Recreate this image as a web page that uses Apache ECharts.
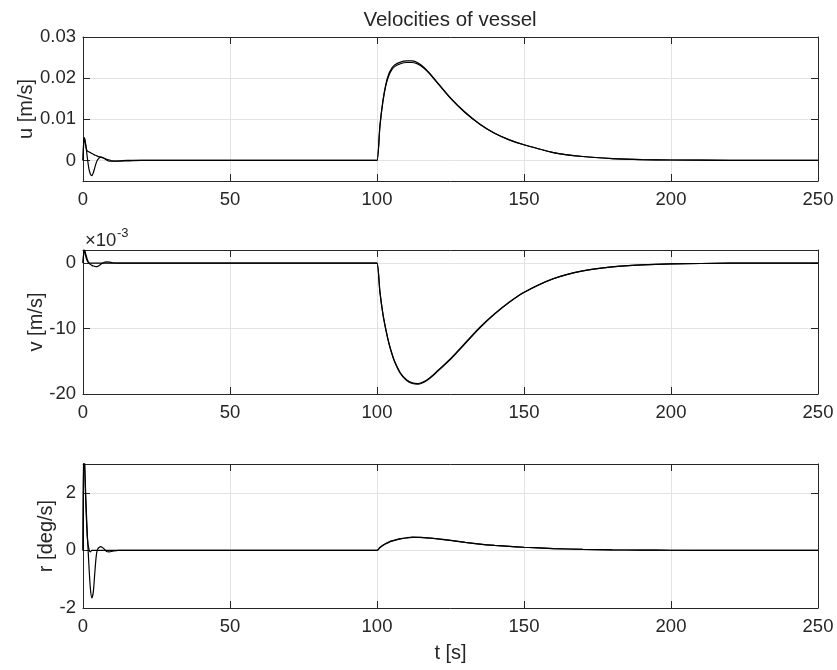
<!DOCTYPE html>
<html>
<head>
<meta charset="utf-8">
<title>Velocities of vessel</title>
<script src="https://cdn.jsdelivr.net/npm/echarts@6/dist/echarts.min.js"></script>
<style>
html, body { margin: 0; padding: 0; background: #fff; }
#chart { width: 837px; height: 670px; }
</style>
</head>
<body>
<div id="chart"></div>
<script>
// time samples [s]
const t = [0, 0.25, 0.5, 1, 1.5, 2, 2.5, 3, 3.5, 4,
  4.5, 5, 6, 7, 8, 9, 10, 12, 15, 20,
  50, 99, 100, 101, 102, 103, 104, 105, 106, 108, 110,
  112, 114, 116, 118, 120, 125, 130, 135, 140, 145,
  150, 160, 170, 180, 190, 200, 220, 250];

// surge velocity u [m/s]
const u1 = [0, 0.0045, 0.0055, 0.0035, 0.0005, -0.002, -0.0033, -0.0037, -0.003, -0.0018,
  -0.0006, 0.0002, 0.0008, 0.0006, 0.0001, -0.0002, -0.0002, -0.0001, 0, 0,
  0, 0, 0, 0.0085, 0.0145, 0.0185, 0.021, 0.0224, 0.0232, 0.0239, 0.0242,
  0.0242, 0.0237, 0.0226, 0.0211, 0.0194, 0.0152, 0.0117, 0.0088, 0.0066, 0.005,
  0.0038, 0.0019, 0.00095, 0.00045, 0.0002, 0.0001, 0.00002, 0];
const u2 = [0, 0.0045, 0.0055, 0.0032, 0.0023, 0.0021, 0.0019, 0.0017, 0.0015, 0.0013,
  0.0012, 0.001, 0.0008, 0.0006, 0.0003, 0.0001, -0.0001, -0.0002, -0.0001, 0,
  0, 0, 0, 0.0083, 0.0142, 0.0182, 0.0206, 0.022, 0.0228, 0.0235, 0.0238,
  0.0238, 0.0234, 0.0224, 0.021, 0.0193, 0.0151, 0.0116, 0.0088, 0.0066, 0.005,
  0.0038, 0.0019, 0.00095, 0.00045, 0.0002, 0.0001, 0.00002, 0];

// sway velocity v [x 10^-3 m/s]
const v1 = [0, 1.5, 2.0, 1.3, 0.5, 0, -0.2, -0.35, -0.45, -0.5,
  -0.55, -0.5, -0.2, 0.1, 0.2, 0.15, 0.05, 0, 0, 0,
  0, 0, 0, -4.5, -7.8, -10.2, -12.2, -13.8, -15.1, -16.9, -17.9,
  -18.4, -18.5, -18.2, -17.6, -16.8, -14.7, -12.3, -9.9, -7.8, -6.0,
  -4.5, -2.4, -1.2, -0.58, -0.28, -0.13, -0.02, 0];
const v2 = [0, 1.5, 2.0, 0.9, 0.3, 0.05, 0, 0, 0, 0,
  0, 0, 0, 0, 0, 0, 0, 0, 0, 0,
  0, 0, 0, -4.4, -7.7, -10.1, -12.1, -13.7, -15.0, -16.8, -17.8,
  -18.3, -18.4, -18.1, -17.5, -16.7, -14.6, -12.2, -9.8, -7.75, -5.95,
  -4.45, -2.38, -1.19, -0.58, -0.28, -0.13, -0.02, 0];

// yaw rate r [deg/s]
const r1 = [0, 3.8, 3.2, 1.7, 0.5, -0.5, -1.3, -1.65, -1.45, -0.8,
  -0.2, 0.05, 0.13, 0.07, -0.04, -0.05, -0.03, 0, 0, 0,
  0, 0, 0, 0.1, 0.18, 0.24, 0.29, 0.33, 0.36, 0.41, 0.44,
  0.46, 0.455, 0.445, 0.43, 0.41, 0.35, 0.28, 0.22, 0.175, 0.14,
  0.11, 0.065, 0.035, 0.02, 0.01, 0.005, 0.001, 0];
const r2 = [0, 3.8, 3.1, 1.5, 0.4, 0.05, -0.05, 0, 0, 0,
  0, 0, 0, 0, 0, 0, 0, 0, 0, 0,
  0, 0, 0, 0.1, 0.17, 0.23, 0.28, 0.32, 0.35, 0.4, 0.43,
  0.45, 0.45, 0.44, 0.425, 0.405, 0.345, 0.278, 0.22, 0.175, 0.14,
  0.11, 0.065, 0.035, 0.02, 0.01, 0.005, 0.001, 0];

const uTicks = [0, 0.01, 0.02, 0.03];

const FONT = 'Liberation Sans, Arial, Helvetica, sans-serif';
const INK = '#262626';
const GRIDLINE = '#e3e3e3';
const TOPS = [37, 250, 464];

const chart = echarts.init(document.getElementById('chart'));

function pairs(ys) {
  return t.map((x, i) => [x, ys[i]]);
}

const grids = TOPS.map(top => ({ left: 83, right: 19, top: top, height: 144 }));

const xAxes = [];
const yAxes = [];
const axisLine = { onZero: false, lineStyle: { color: INK, width: 1 } };
const axisTick = { inside: true, length: 7, lineStyle: { color: INK } };

for (let i = 0; i < 3; i++) {
  // bottom axis with labels, top axis only for the box + ticks
  xAxes.push({
    type: 'value', gridIndex: i, min: 0, max: 250, interval: 50,
    axisLine: axisLine, axisTick: axisTick,
    axisLabel: { color: INK, fontSize: 18.5, fontFamily: FONT, margin: 9 },
    splitLine: { show: true, lineStyle: { color: GRIDLINE } },
    name: i === 2 ? 't [s]' : '',
    nameLocation: 'middle', nameGap: 35, nameMoveOverlap: false,
    nameTextStyle: { color: INK, fontSize: 20, fontFamily: FONT }
  });
  xAxes.push({
    type: 'value', gridIndex: i, min: 0, max: 250, interval: 50, position: 'top',
    axisLine: axisLine, axisTick: axisTick,
    axisLabel: { show: false }, splitLine: { show: false }
  });
}

const yInfo = [
  { name: 'u [m/s]', gap: 47, min: -0.005, max: 0.03, custom: uTicks },
  { name: 'v [m/s]', gap: 37, min: -20, max: 2, interval: 10 },
  { name: 'r [deg/s]', gap: 27, min: -2, max: 3, interval: 2 }
];

yInfo.forEach((c, i) => {
  const left = {
    type: 'value', gridIndex: i, min: c.min, max: c.max,
    axisLine: axisLine,
    axisTick: Object.assign({}, axisTick),
    axisLabel: {
      color: INK, fontSize: 18.5, fontFamily: FONT, margin: 7, showMaxLabel: c.custom ? true : false,
      formatter: v => (v === 0 ? '0' : (c.custom ? v.toFixed(2) : String(v)))
    },
    splitLine: { show: true, lineStyle: { color: GRIDLINE } },
    name: c.name, nameLocation: 'middle', nameRotate: 90, nameGap: c.gap,
    nameMoveOverlap: false,
    nameTextStyle: { color: INK, fontSize: 20, fontFamily: FONT }
  };
  const right = {
    type: 'value', gridIndex: i, min: c.min, max: c.max, position: 'right',
    axisLine: axisLine, axisTick: Object.assign({}, axisTick),
    axisLabel: { show: false }, splitLine: { show: false }
  };
  if (c.custom) {
    left.axisLabel.customValues = c.custom;
    left.axisTick.customValues = c.custom;
    right.axisTick.customValues = c.custom;
  } else {
    left.interval = c.interval;
    right.interval = c.interval;
  }
  yAxes.push(left, right);
});

const data = [[u1, u2], [v1, v2], [r1, r2]];
const series = [];
data.forEach((pair, i) => {
  pair.forEach(ys => {
    series.push({
      type: 'line', xAxisIndex: 2 * i, yAxisIndex: 2 * i,
      data: pairs(ys), symbol: 'none', clip: true,
      smooth: 0.25,
      lineStyle: { color: '#000', width: 1.2 }
    });
  });
});

chart.setOption({
  backgroundColor: '#fff',
  animation: false,
  grid: grids,
  xAxis: xAxes,
  yAxis: yAxes,
  series: series,
  graphic: [
    {
      type: 'text', x: 450, y: 20,
      style: { text: 'Velocities of vessel', align: 'center', verticalAlign: 'middle',
        fontSize: 20.5, fontFamily: FONT, fill: INK }
    },
    {
      type: 'text', x: 85, y: 241,
      style: { text: '×10', align: 'left', verticalAlign: 'middle',
        fontSize: 18.5, fontFamily: FONT, fill: INK }
    },
    {
      type: 'text', x: 117, y: 233,
      style: { text: '-3', align: 'left', verticalAlign: 'middle',
        fontSize: 13, fontFamily: FONT, fill: INK }
    }
  ]
});
</script>
</body>
</html>
